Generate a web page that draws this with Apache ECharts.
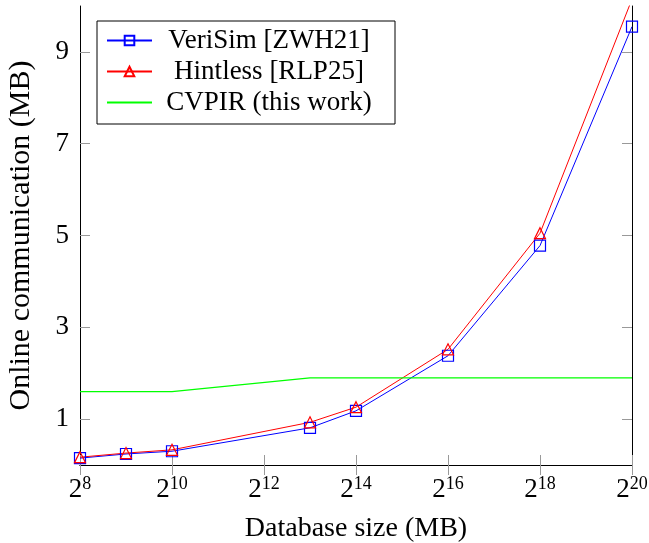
<!DOCTYPE html>
<html>
<head>
<meta charset="utf-8">
<script src="https://cdn.jsdelivr.net/npm/echarts@6/dist/echarts.min.js"></script>
<style>html,body{margin:0;padding:0;background:#fff}#c{width:649px;height:543px}</style>
</head>
<body>
<div id="c"></div>
<script>
// Data (x as log2 of database size in MB)
const xExp = [8, 9, 10, 13, 14, 16, 18, 20];
const verisim = [0.15, 0.24, 0.30, 0.81, 1.18, 2.38, 4.78, 9.55];
const hintless = [0.17, 0.26, 0.33, 0.93, 1.26, 2.52, 5.05, 10.15];
const cvpir = [1.6, 1.6, 1.6, 1.9, 1.9, 1.9, 1.9, 1.9];
const yTicks = [1, 3, 5, 7, 9];
const seriesNames = ['VeriSim [ZWH21]', 'Hintless [RLP25]', 'CVPIR (this work)'];

const pairs = v => xExp.map((x, i) => [x, v[i]]);
const FONT = 'Liberation Serif';
const tickStyle = { show: true, inside: true, length: 10, lineStyle: { color: '#999', width: 1 } };
const lineAx = { show: true, lineStyle: { color: '#000', width: 1 } };

const chart = echarts.init(document.getElementById('c'));
chart.setOption({
  animation: false,
  grid: { left: 80, right: 17, top: 6, bottom: 78, containLabel: false, outerBoundsMode: 'none' },
  legend: {
    orient: 'vertical', left: 97, top: 21,
    backgroundColor: '#fff', borderColor: '#000', borderWidth: 1,
    padding: [6, 14, 8, 9], itemGap: 4, itemWidth: 45, itemHeight: 12,
    formatter: n => '{t|' + n + '}',
    textStyle: {
      color: '#000',
      rich: { t: { fontFamily: FONT, fontSize: 27, color: '#000', width: 224, align: 'center', lineHeight: 30 } }
    },
    data: [
      { name: seriesNames[0] },
      { name: seriesNames[1] },
      { name: seriesNames[2], itemStyle: { opacity: 0 } }
    ]
  },
  xAxis: [{
    type: 'value', min: 8, max: 20, interval: 2, position: 'bottom',
    axisLine: lineAx, axisTick: tickStyle, splitLine: { show: false },
    name: 'Database size (MB)', nameLocation: 'middle', nameGap: 50,
    nameTextStyle: { fontFamily: FONT, fontSize: 28, color: '#000' },
    axisLabel: {
      margin: 10, color: '#000',
      formatter: v => '{b|2}{s|' + v + '}',
      rich: {
        b: { fontFamily: FONT, fontSize: 27, color: '#000' },
        s: { fontFamily: FONT, fontSize: 18, color: '#000', padding: [0, 0, 11, 0] }
      }
    }
  }, {
    type: 'value', min: 8, max: 20, interval: 2, position: 'top',
    axisLine: lineAx, axisTick: tickStyle, axisLabel: { show: false }, splitLine: { show: false }
  }],
  yAxis: [{
    type: 'value', min: 0, max: 10, position: 'left',
    axisLine: lineAx,
    axisTick: Object.assign({ customValues: yTicks }, tickStyle),
    splitLine: { show: false },
    name: 'Online communication (MB)', nameLocation: 'middle', nameGap: 44,
    nameTextStyle: { fontFamily: FONT, fontSize: 30, color: '#000' },
    axisLabel: { customValues: yTicks, margin: 11, fontFamily: FONT, fontSize: 27, color: '#000' }
  }, {
    type: 'value', min: 0, max: 10, position: 'right',
    axisLine: lineAx,
    axisTick: Object.assign({ customValues: yTicks }, tickStyle),
    axisLabel: { show: false }, splitLine: { show: false }
  }],
  series: [{
    name: seriesNames[0], type: 'line', data: pairs(verisim),
    symbol: 'rect', symbolSize: 11, showAllSymbol: true, clip: true,
    lineStyle: { color: '#0000ff', width: 1 },
    itemStyle: { color: 'rgba(255,255,255,0)', borderColor: '#0000ff', borderWidth: 1.2 }
  }, {
    name: seriesNames[1], type: 'line', data: pairs(hintless),
    symbol: 'triangle', symbolSize: 11, showAllSymbol: true, clip: true,
    lineStyle: { color: '#ff0000', width: 1 },
    itemStyle: { color: 'rgba(255,255,255,0)', borderColor: '#ff0000', borderWidth: 1.2 }
  }, {
    name: seriesNames[2], type: 'line', data: pairs(cvpir),
    symbol: 'none', clip: true,
    lineStyle: { color: '#00ff00', width: 1.2 },
    itemStyle: { color: '#00ff00' }
  }]
});
</script>
</body>
</html>
